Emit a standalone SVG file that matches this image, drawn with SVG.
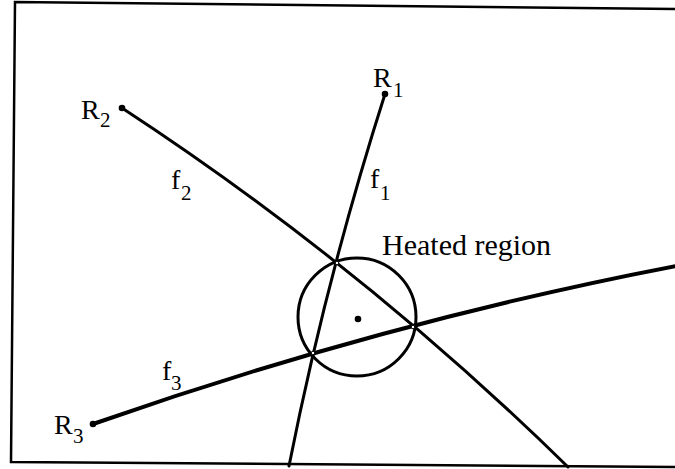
<svg xmlns="http://www.w3.org/2000/svg" width="675" height="469" viewBox="0 0 675 469">
<style>
.ln{fill:none;stroke:#000;stroke-width:3;stroke-linecap:round}
.lbl{font-family:"Liberation Serif","Times New Roman",serif;font-size:28px;fill:#000}
.sub{font-family:"Liberation Serif","Times New Roman",serif;font-size:21px;fill:#000}
.dot{fill:#000}
.hole{fill:#fff;stroke:#000;stroke-width:1}
</style>
<rect width="675" height="469" fill="#fff"/>
<path id="frame" d="M675,9 L15,2 L11,462 L675,467" fill="none" stroke="#000" stroke-width="2.5"/>
<g id="connectors">
<path id="f1-line" class="ln" d="M385,94 Q326,279 289,466"/>
<path id="f2-line" class="ln" d="M122,108 Q362,265 568,467"/>
<path id="f3-line" class="ln" style="stroke-width:4" d="M93,424 Q384,322 676,266"/>
</g>
<g id="heated">
<circle cx="357" cy="317" r="59" fill="none" stroke="#000" stroke-width="3"/>
<circle class="dot" cx="358" cy="319" r="3.3"/>
<circle class="hole" cx="337" cy="263" r="1.8"/>
<circle class="hole" cx="413" cy="327" r="1.8"/>
<circle class="hole" cx="313" cy="353" r="1.8"/>
<text x="382" y="255" class="lbl" style="font-size:30px">Heated region</text>
</g>
<g id="R1">
<circle class="dot" cx="385" cy="94" r="3.3"/>
<text x="373" y="87" class="lbl">R</text><text x="393" y="97" class="sub">1</text>
</g>
<g id="R2">
<circle class="dot" cx="122" cy="108" r="3.3"/>
<text x="81" y="119" class="lbl">R</text><text x="100" y="127" class="sub">2</text>
</g>
<g id="R3">
<circle class="dot" cx="93" cy="424" r="3.3"/>
<text x="54" y="434" class="lbl">R</text><text x="73" y="443" class="sub">3</text>
</g>
<g id="f1"><text x="370" y="188" class="lbl">f</text><text x="380" y="200" class="sub">1</text></g>
<g id="f2"><text x="171" y="189" class="lbl">f</text><text x="181" y="200" class="sub">2</text></g>
<g id="f3"><text x="162" y="380" class="lbl">f</text><text x="171" y="390" class="sub">3</text></g>
</svg>
